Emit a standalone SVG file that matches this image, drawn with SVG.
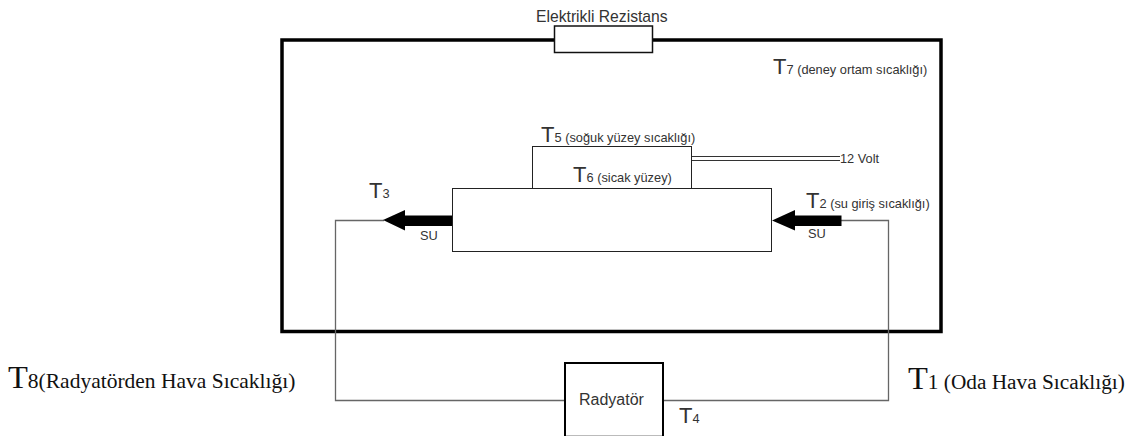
<svg xmlns="http://www.w3.org/2000/svg" width="1131" height="436" viewBox="0 0 1131 436">
<style>
text{font-family:"Liberation Sans",Arial,sans-serif;fill:#333}
.s{font-size:12.800px}.b{font-size:22px}.su{font-size:12.800px}
.r{font-family:"Liberation Serif","Times New Roman",serif;fill:#111;font-size:32.500px}
.box{fill:#fff;stroke:#222;stroke-width:1}
.pipe{fill:none;stroke:#666;stroke-width:1.300}
.wire{fill:none;stroke:#333;stroke-width:1}
</style>
<rect width="1131" height="436" fill="#fff"/>
<g id="chamber"><rect x="282" y="40" width="659" height="291.500" fill="none" stroke="#000" stroke-width="3.500"/></g>
<g id="connectors">
<path class="pipe" d="M565 400.500H335.500V220.500H384"/>
<path class="pipe" d="M663 400.500H888.500V220.500H841"/>
<path class="wire" d="M691 156.500H840M691 160.500H840"/>
<path fill="#000" d="M452 215.500H405V210L383 220L405 230.500V226H452Z"/>
<path fill="#000" d="M841.500 215.500H795V210L772 220.500L795 230.500V226H841.500Z"/>
</g>
<g id="rezistans">
<rect x="554.500" y="26" width="98" height="26.500" fill="#fff" stroke="#111" stroke-width="1.500"/>
<text x="536" y="22" font-size="15.700">Elektrikli Rezistans</text>
</g>
<g id="t7"><text class="b" x="773" y="74">T<tspan class="s">7 (deney ortam sıcaklığı)</tspan></text></g>
<g id="peltier">
<rect class="box" x="532.500" y="146.500" width="159" height="42"/>
<text class="b" x="541" y="142">T<tspan class="s">5 (soğuk yüzey sıcaklığı)</tspan></text>
<text class="b" x="573" y="182">T<tspan class="s">6 (sicak yüzey)</tspan></text>
</g>
<g id="volt"><text class="su" x="840" y="163">12 Volt</text></g>
<g id="blok"><rect class="box" x="452.500" y="188.500" width="319" height="63"/></g>
<g id="t3"><text class="b" x="369" y="198">T<tspan class="s">3</tspan></text><text class="su" x="420" y="240">SU</text></g>
<g id="t2"><text class="b" x="806" y="208">T<tspan class="s">2 (su giriş sıcaklığı)</tspan></text><text class="su" x="808" y="238">SU</text></g>
<g id="radyator">
<rect x="565" y="363" width="98" height="72" fill="#fff"/>
<path d="M565 436V363H663V436" fill="none" stroke="#000" stroke-width="2"/>
<path d="M566 435.500H662" stroke="#bbb" stroke-width="1"/>
<text x="579" y="405" font-size="16">Radyatör</text>
</g>
<g id="t4"><text class="b" x="679" y="423">T<tspan class="s">4</tspan></text></g>
<g id="t8"><text class="r" x="8" y="388">T<tspan font-size="21.500">8(Radyatörden Hava Sıcaklığı)</tspan></text></g>
<g id="t1"><text class="r" x="908" y="389">T<tspan font-size="21.300">1 (Oda Hava Sıcaklığı)</tspan></text></g>
</svg>
